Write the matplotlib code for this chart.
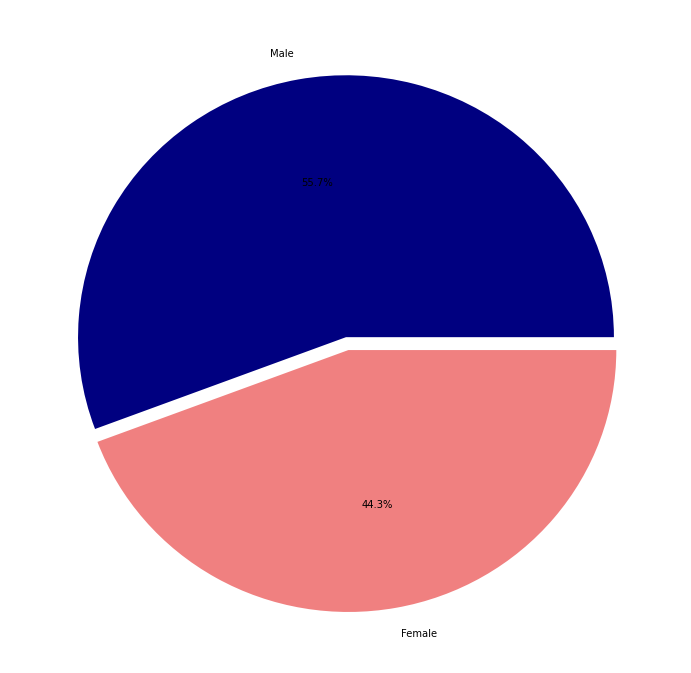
import matplotlib
matplotlib.use("Agg")
import matplotlib.pyplot as plt

# gender split
labels = ["Male", "Female"]
sizes = [55.7, 44.3]
colors = ["navy", "lightcoral"]
explode = [0, 0.05]

fig = plt.figure(figsize=(691 / 72, 673 / 72), dpi=72)
ax = fig.add_axes([0.0354, 0.032, 0.9306, 0.934])
ax.pie(sizes, labels=labels, colors=colors, explode=explode,
       autopct="%1.1f%%", textprops={"fontsize": 10})
ax.set_xlim(-1.2, 1.2)
ax.set_ylim(-1.2, 1.2)
ax.set_aspect("auto")
fig.savefig("out.png", dpi=72)
